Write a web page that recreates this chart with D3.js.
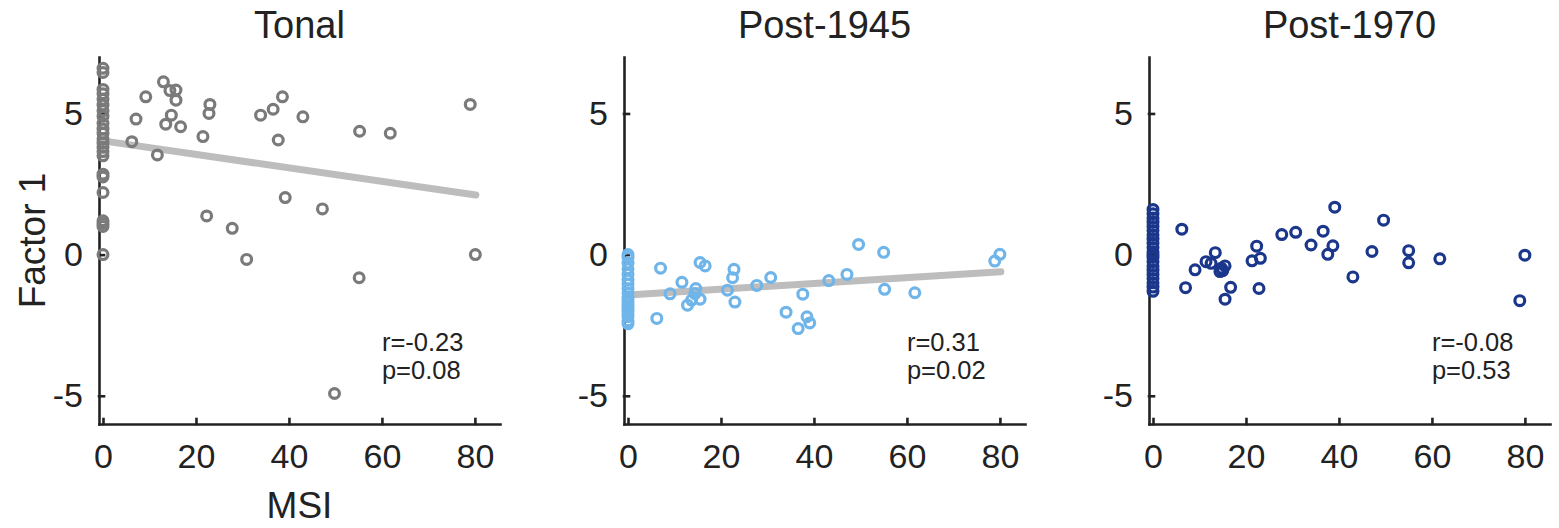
<!DOCTYPE html>
<html>
<head>
<meta charset="utf-8">
<script src="https://cdn.jsdelivr.net/npm/d3@7"></script>
<style>
  html, body { margin: 0; padding: 0; background: #fff; }
  svg text { font-family: Helvetica, Arial, "Liberation Sans", sans-serif; fill: #222; }
  .axis path, .axis line { stroke: #222; stroke-width: 2.6; stroke-linecap: square; }
  .axis text { font-size: 34px; }
</style>
</head>
<body>
<svg id="chart" width="1559" height="528"></svg>
<script>
// ---- data ----
const panelTitles = ["Tonal", "Post-1945", "Post-1970"];
const panelColors = ["#7a7a7a", "#6fb5ea", "#1b378c"];
const xTicks = [0, 20, 40, 60, 80];
const yTicks = [-5, 0, 5];

const tonalMsi = [
  0, 0, 0, 0, 0, 0, 0, 0, 0, 0, 0, 0, 0, 0, 0, 0, 0, 0, 0, 0, 0, 0, 0,
  9.2, 13.0, 14.4, 15.7, 15.7, 7.1, 14.7, 13.5, 16.7, 6.2, 11.7, 23.0, 22.8, 21.5,
  22.3, 27.8, 33.9, 36.6, 38.6, 43.0, 37.7, 39.2, 55.2, 61.8, 79.0, 47.2, 30.9,
  55.1, 80.1, 49.8
];
const tonalF1 = [
  6.6, 6.45, 5.85, 5.7, 5.5, 5.3, 5.1, 4.9, 4.65, 4.45, 4.3, 4.1, 3.95, 3.8, 3.65, 3.5,
  2.85, 2.75, 2.2, 1.2, 1.1, 1.0, 0.0,
  5.59, 6.12, 5.81, 5.83, 5.47, 4.80, 4.94, 4.62, 4.53, 4.0, 3.53, 5.32, 5.0, 4.18,
  1.37, 0.93, 4.94, 5.15, 5.59, 4.88, 4.06, 2.02, 4.37, 4.3, 5.32, 1.62, -0.17,
  -0.82, 0.0, -4.92
];

const post45Msi = [
  0, 0, 0, 0, 0, 0, 0, 0, 0, 0, 0, 0, 0, 0, 0, 0, 0, 0, 0,
  7.0, 15.5, 16.6, 11.6, 9.05, 14.6, 14.4, 13.7, 12.8, 15.5, 6.2, 22.8, 22.5, 21.4,
  23.0, 27.7, 30.7, 37.6, 34.0, 38.5, 39.1, 36.6, 43.2, 47.1, 49.6, 55.0, 55.2,
  61.7, 78.9, 80.0
];
const post45F1 = [
  0.0, -0.1, -0.3, -0.5, -0.7, -0.9, -1.05, -1.2, -1.35, -1.5, -1.6, -1.7, -1.8, -1.9,
  -2.0, -2.1, -2.2, -2.35, -2.45,
  -0.48, -0.28, -0.40, -0.98, -1.39, -1.20, -1.38, -1.61, -1.79, -1.58, -2.26, -0.52,
  -0.82, -1.26, -1.68, -1.09, -0.81, -1.40, -2.04, -2.20, -2.42, -2.62, -0.92, -0.70,
  0.36, 0.08, -1.23, -1.35, -0.23, 0.01
];

const post70Msi = [
  0, 0, 0, 0, 0, 0, 0, 0, 0, 0, 0, 0, 0, 0, 0, 0, 0, 0, 0, 0, 0,
  6.2, 7.0, 9.05, 11.4, 13.4, 12.5, 14.7, 15.0, 15.5, 14.4, 16.7, 15.5, 22.3, 21.3,
  23.1, 22.8, 27.7, 30.7, 34.0, 36.6, 38.7, 37.6, 39.1, 49.6, 47.1, 43.0, 55.0, 55.0,
  61.7, 80.0, 78.9
];
const post70F1 = [
  1.6, 1.45, 1.3, 1.15, 1.0, 0.85, 0.7, 0.55, 0.4, 0.25, 0.1, 0.0, -0.1, -0.25, -0.4,
  -0.55, -0.7, -0.85, -1.0, -1.15, -1.3,
  0.9, -1.17, -0.54, -0.25, 0.07, -0.31, -0.48, -0.57, -0.40, -0.6, -1.16, -1.58, 0.3,
  -0.22, -0.13, -1.2, 0.71, 0.79, 0.34, 0.83, 0.31, 0.01, 1.68, 1.22, 0.11, -0.79,
  0.14, -0.29, -0.15, -0.02, -1.63
];

// regression line end points [x0, y0, x1, y1], null = none drawn
const fitLines = [[0, 4.03, 80.2, 2.11], [0, -1.43, 80.2, -0.61], null];
const statR = ["r=-0.23", "r=0.31", "r=-0.08"];
const statP = ["p=0.08", "p=0.02", "p=0.53"];

const msiSets = [tonalMsi, post45Msi, post70Msi];
const f1Sets = [tonalF1, post45F1, post70F1];

// ---- layout ----
const svg = d3.select("#chart");
const panelLeft = [99, 624, 1149];
const plotW = 401, plotTop = 57, plotBottom = 424;

const y = d3.scaleLinear().domain([-6, 7]).range([plotBottom, plotTop]);

panelTitles.forEach((title, i) => {
  const x = d3.scaleLinear().domain([-0.86, 85.4]).range([panelLeft[i], panelLeft[i] + plotW]);
  const g = svg.append("g");

  // plain hyphen minus, like the original figure
  const fmt = d => String(d);

  g.append("g").attr("class", "axis")
    .attr("transform", `translate(0,${plotBottom})`)
    .call(d3.axisBottom(x).tickValues(xTicks).tickFormat(fmt).tickSizeInner(-5).tickSizeOuter(0).tickPadding(20))
    .call(a => a.selectAll("text").attr("fill", "#222"));

  g.append("g").attr("class", "axis")
    .attr("transform", `translate(${panelLeft[i]},0)`)
    .call(d3.axisLeft(y).tickValues(yTicks).tickFormat(fmt).tickSizeInner(-5).tickSizeOuter(0).tickPadding(16))
    .call(a => a.selectAll("text").attr("fill", "#222"));

  svg.selectAll(".axis text").attr("font-family", null);

  if (fitLines[i]) {
    const f = fitLines[i];
    g.append("line")
      .attr("x1", x(f[0])).attr("y1", y(f[1]))
      .attr("x2", x(f[2])).attr("y2", y(f[3]))
      .attr("stroke", "#bdbdbd").attr("stroke-width", 7).attr("stroke-linecap", "round");
  }

  const pts = msiSets[i].map((m, k) => ({ m, f: f1Sets[i][k] }));
  g.selectAll("circle.pt").data(pts).join("circle")
    .attr("class", "pt")
    .attr("cx", d => x(d.m)).attr("cy", d => y(d.f))
    .attr("r", 4.9)
    .attr("fill", "none")
    .attr("stroke", panelColors[i])
    .attr("stroke-width", 3.2);

  g.append("text")
    .attr("x", (panelLeft[i] + plotW / 2)).attr("y", 38)
    .attr("text-anchor", "middle").attr("font-size", 38)
    .text(title);

  g.append("text").attr("x", x(60)).attr("y", y(-3.4)).attr("font-size", 25.5).text(statR[i]);
  g.append("text").attr("x", x(60)).attr("y", y(-4.4)).attr("font-size", 25.5).text(statP[i]);

  if (i === 0) {
    g.append("text")
      .attr("x", panelLeft[i] + plotW / 2).attr("y", 518)
      .attr("text-anchor", "middle").attr("font-size", 37)
      .text("MSI");
    g.append("text")
      .attr("transform", `translate(45,${(plotTop + plotBottom) / 2}) rotate(-90)`)
      .attr("text-anchor", "middle").attr("font-size", 37)
      .text("Factor 1");
  }
});
</script>
</body>
</html>
